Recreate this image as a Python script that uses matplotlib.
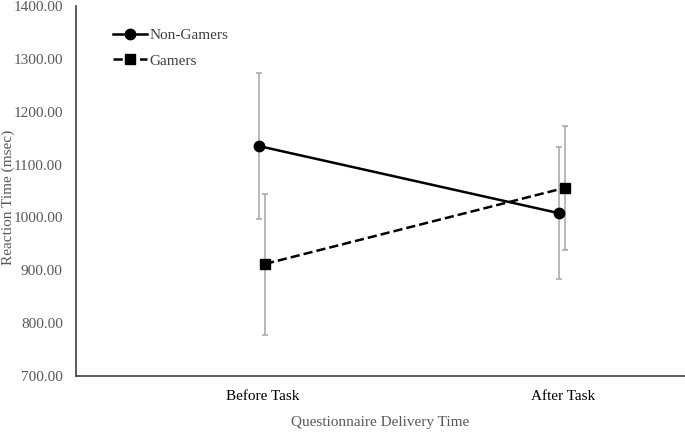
import numpy as np
import matplotlib.pyplot as plt

plt.rcParams['font.family'] = ['Liberation Serif', 'DejaVu Serif']

categories = ['Before Task', 'After Task']
non_gamers = [1135, 1008]
non_gamers_err_low = [997, 883]
non_gamers_err_high = [1273, 1133]
gamers = [912, 1056]
gamers_err_low = [778, 938]
gamers_err_high = [1044, 1173]

x = np.arange(len(categories))

fig = plt.figure(figsize=(6.85, 4.32), dpi=100)
ax = fig.add_axes([76/685, 1-376/432, 1-76/685, 370/432])

ng = np.array(non_gamers)
gm = np.array(gamers)
ng_err = [ng - np.array(non_gamers_err_low), np.array(non_gamers_err_high) - ng]
gm_err = [gm - np.array(gamers_err_low), np.array(gamers_err_high) - gm]

ax.errorbar(x - 0.013, ng, yerr=ng_err, fmt='none', ecolor='#a6a6a6',
            elinewidth=1.1, capsize=2.5, capthick=1.1, zorder=1)
ax.errorbar(x + 0.007, gm, yerr=gm_err, fmt='none', ecolor='#a6a6a6',
            elinewidth=1.1, capsize=2.5, capthick=1.1, zorder=1)
ax.plot(x - 0.013, ng, '-', color='black', lw=1.8, marker='o', ms=7.5,
        label='Non-Gamers', zorder=3)
ax.plot(x + 0.007, gm, '--', color='black', lw=1.8, marker='s', ms=7,
        label='Gamers', zorder=3)

ax.set_xlim(-0.623, 1.407)
ax.set_ylim(700, 1400)
ax.set_yticks(np.arange(700, 1401, 100))
ax.set_yticklabels(['%.2f' % v for v in np.arange(700, 1401, 100)])
ax.set_xticks(x)
ax.set_xticklabels(categories)

ax.tick_params(axis='y', length=0, labelsize=11, labelcolor='#595959', pad=9.5)
ax.tick_params(axis='x', length=0, labelsize=11, labelcolor='black', pad=10)

for s in ['top', 'right']:
    ax.spines[s].set_visible(False)
ax.spines['left'].set_color('#404040')
ax.spines['bottom'].set_color('#404040')
ax.spines['left'].set_linewidth(1.2)
ax.spines['bottom'].set_linewidth(1.2)

ax.set_ylabel('Reaction Time (msec)', fontsize=11, color='#595959', va='center')
ax.yaxis.set_label_coords(-0.111, 0.484)
ax.set_xlabel('Questionnaire Delivery Time', fontsize=11, color='#595959', va='center')
ax.xaxis.set_label_coords(0.5, -0.127)

leg = ax.legend(loc='upper left', bbox_to_anchor=(0.061, 0.94), frameon=False,
                fontsize=11, handlelength=2.2, handletextpad=0.2, labelspacing=0.8,
                borderaxespad=0, borderpad=0)
for t in leg.get_texts():
    t.set_color('#404040')

fig.savefig('out.png', dpi=100)
